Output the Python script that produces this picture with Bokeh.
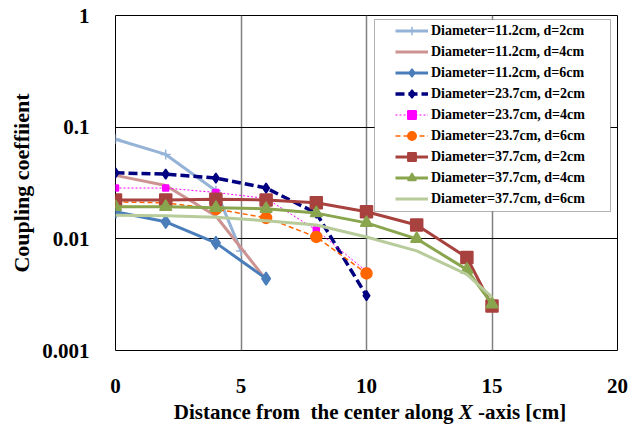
import numpy as np
from bokeh.plotting import figure
from bokeh.layouts import column
from bokeh.models import (Range1d, FixedTicker, Legend, LegendItem, BoxAnnotation, Div)
from bokeh.embed import file_html
from bokeh.resources import INLINE

# ---- data ----
x_11_2 = [0, 2, 4, 5]
y_11_2 = [0.078, 0.057, 0.027, 0.0078]
x_11_4 = [0, 2, 4, 6]
y_11_4 = [0.037, 0.030, 0.016, 0.0043]
x_11_6 = [0, 2, 4, 6]
y_11_6 = [0.0175, 0.0142, 0.0092, 0.0044]
x_23 = [0, 2, 4, 6, 8, 10]
y_23_2 = [0.039, 0.038, 0.035, 0.0285, 0.017, 0.0031]
y_23_4 = [0.0285, 0.0285, 0.026, 0.023, 0.012, 0.0051]
y_23_6 = [0.0214, 0.021, 0.0185, 0.0154, 0.0104, 0.0049]
x_37 = [0, 2, 4, 6, 8, 10, 12, 14, 15]
y_37_2 = [0.0223, 0.0223, 0.0226, 0.0223, 0.021, 0.0175, 0.0133, 0.0068, 0.0025]
y_37_4 = [0.0194, 0.0194, 0.019, 0.0186, 0.017, 0.0139, 0.010, 0.0053, 0.0026]
y_37_6 = [0.0163, 0.0161, 0.0156, 0.0145, 0.0133, 0.0104, 0.0078, 0.0048, 0.0030]

labels = ["Diameter=11.2cm, d=2cm", "Diameter=11.2cm, d=4cm", "Diameter=11.2cm, d=6cm",
          "Diameter=23.7cm, d=2cm", "Diameter=23.7cm, d=4cm", "Diameter=23.7cm, d=6cm",
          "Diameter=37.7cm, d=2cm", "Diameter=37.7cm, d=4cm", "Diameter=37.7cm, d=6cm"]
x_ticks = [0, 5, 10, 15, 20]
y_ticks = [0.001, 0.01, 0.1, 1]
y_tick_labels = ["0.001", "0.01", "0.1", "1"]
x_title_parts = ["Distance from&nbsp; the center along ", "X", " -axis [cm]"]
y_title = "Coupling coeffiient"

FONT = "Liberation Serif"

p = figure(width=642, height=400, output_backend="svg", toolbar_location=None,
           y_axis_type="log", x_range=Range1d(0, 20), y_range=Range1d(0.001, 1),
           min_border_left=115, min_border_right=25, min_border_top=15, min_border_bottom=50)
p.outline_line_color = "black"
p.outline_line_width = 1
p.background_fill_color = "white"
p.border_fill_color = "white"

# grids
p.xgrid.ticker = FixedTicker(ticks=[5, 10, 15])
p.xgrid.grid_line_color = "#808080"
p.xgrid.grid_line_width = 1.5
p.ygrid.ticker = FixedTicker(ticks=[0.01, 0.1])
p.ygrid.grid_line_color = "black"
p.ygrid.grid_line_width = 1
p.ygrid.minor_grid_line_color = None

# axes
for ax in (p.xaxis[0], p.yaxis[0]):
    ax.major_tick_line_color = None
    ax.minor_tick_line_color = None
    ax.axis_line_color = None
    ax.major_label_text_font = FONT
    ax.major_label_text_font_style = "bold"
    ax.major_label_text_font_size = "21px"
    ax.major_label_text_color = "black"
    ax.axis_label_text_font = FONT
    ax.axis_label_text_font_style = "bold"
    ax.axis_label_text_color = "black"

p.xaxis.ticker = FixedTicker(ticks=x_ticks)
p.xaxis.major_label_standoff = 22

p.yaxis.ticker = FixedTicker(ticks=y_ticks)
p.yaxis.major_label_overrides = {t: s for t, s in zip(y_ticks, y_tick_labels)}
p.yaxis.major_label_standoff = 20
p.yaxis.axis_label = y_title
p.yaxis.axis_label_text_font_size = "22px"
p.yaxis.axis_label_standoff = 5

items = []

def add(x, y, color, width, dash, marker, msize, label):
    rs = []
    r = p.line(x, y, line_color=color, line_width=width, line_dash=dash)
    rs.append(r)
    if marker is not None:
        s = p.scatter(x, y, marker=marker, size=msize, fill_color=color, line_color=color,
                      line_width=1.5)
        rs.append(s)
    items.append(LegendItem(label=label, renderers=rs))

add(x_11_2, y_11_2, "#95B3D7", 3, "solid", "cross", 10, labels[0])
add(x_11_4, y_11_4, "#CD9391", 3, "solid", None, 0, labels[1])
add(x_11_6, y_11_6, "#4A7EBB", 3, "solid", "diamond", 13, labels[2])
add(x_23, y_23_2, "#000080", 3.5, "9 4", "diamond", 10, labels[3])
add(x_23, y_23_4, "#FF00FF", 1, "2 2", "square", 6, labels[4])
add(x_23, y_23_6, "#FF6600", 1.5, "5 3", "circle", 11, labels[5])
add(x_37, y_37_2, "#A8423F", 3, "solid", "square", 12, labels[6])
add(x_37, y_37_4, "#89A54E", 3, "solid", "triangle", 12, labels[7])
add(x_37, y_37_6, "#B7CC9A", 3, "solid", None, 0, labels[8])

# legend frame (decoration, frame-relative screen units)
box = BoxAnnotation(left=259, right=495, top=331, bottom=139,
                    left_units="screen", right_units="screen",
                    top_units="screen", bottom_units="screen",
                    fill_color="white", fill_alpha=1.0, line_color="black", line_width=1)
p.add_layout(box)

legend = Legend(items=items, location=(280, 141), padding=0, margin=0, spacing=0,
                glyph_width=33, glyph_height=21, label_height=21, label_standoff=3,
                label_text_font=FONT, label_text_font_style="bold",
                label_text_font_size="14px", label_text_color="black",
                border_line_color=None, background_fill_alpha=0.0)
p.add_layout(legend, "center")

# x-axis title (with italic X) below the figure
xt = ('<div style="width:642px;box-sizing:border-box;padding-left:98px;text-align:center;'
      'font-family:\'Liberation Serif\';font-weight:bold;font-size:21px;line-height:24px;'
      'color:black;margin:0;">'
      + x_title_parts[0] + '<i>' + x_title_parts[1] + '</i>' + x_title_parts[2] + '</div>')
div = Div(text=xt, width=642, height=27, margin=0)

layout = column(p, div, spacing=0)
open("out.html", "w").write(file_html(layout, INLINE))
